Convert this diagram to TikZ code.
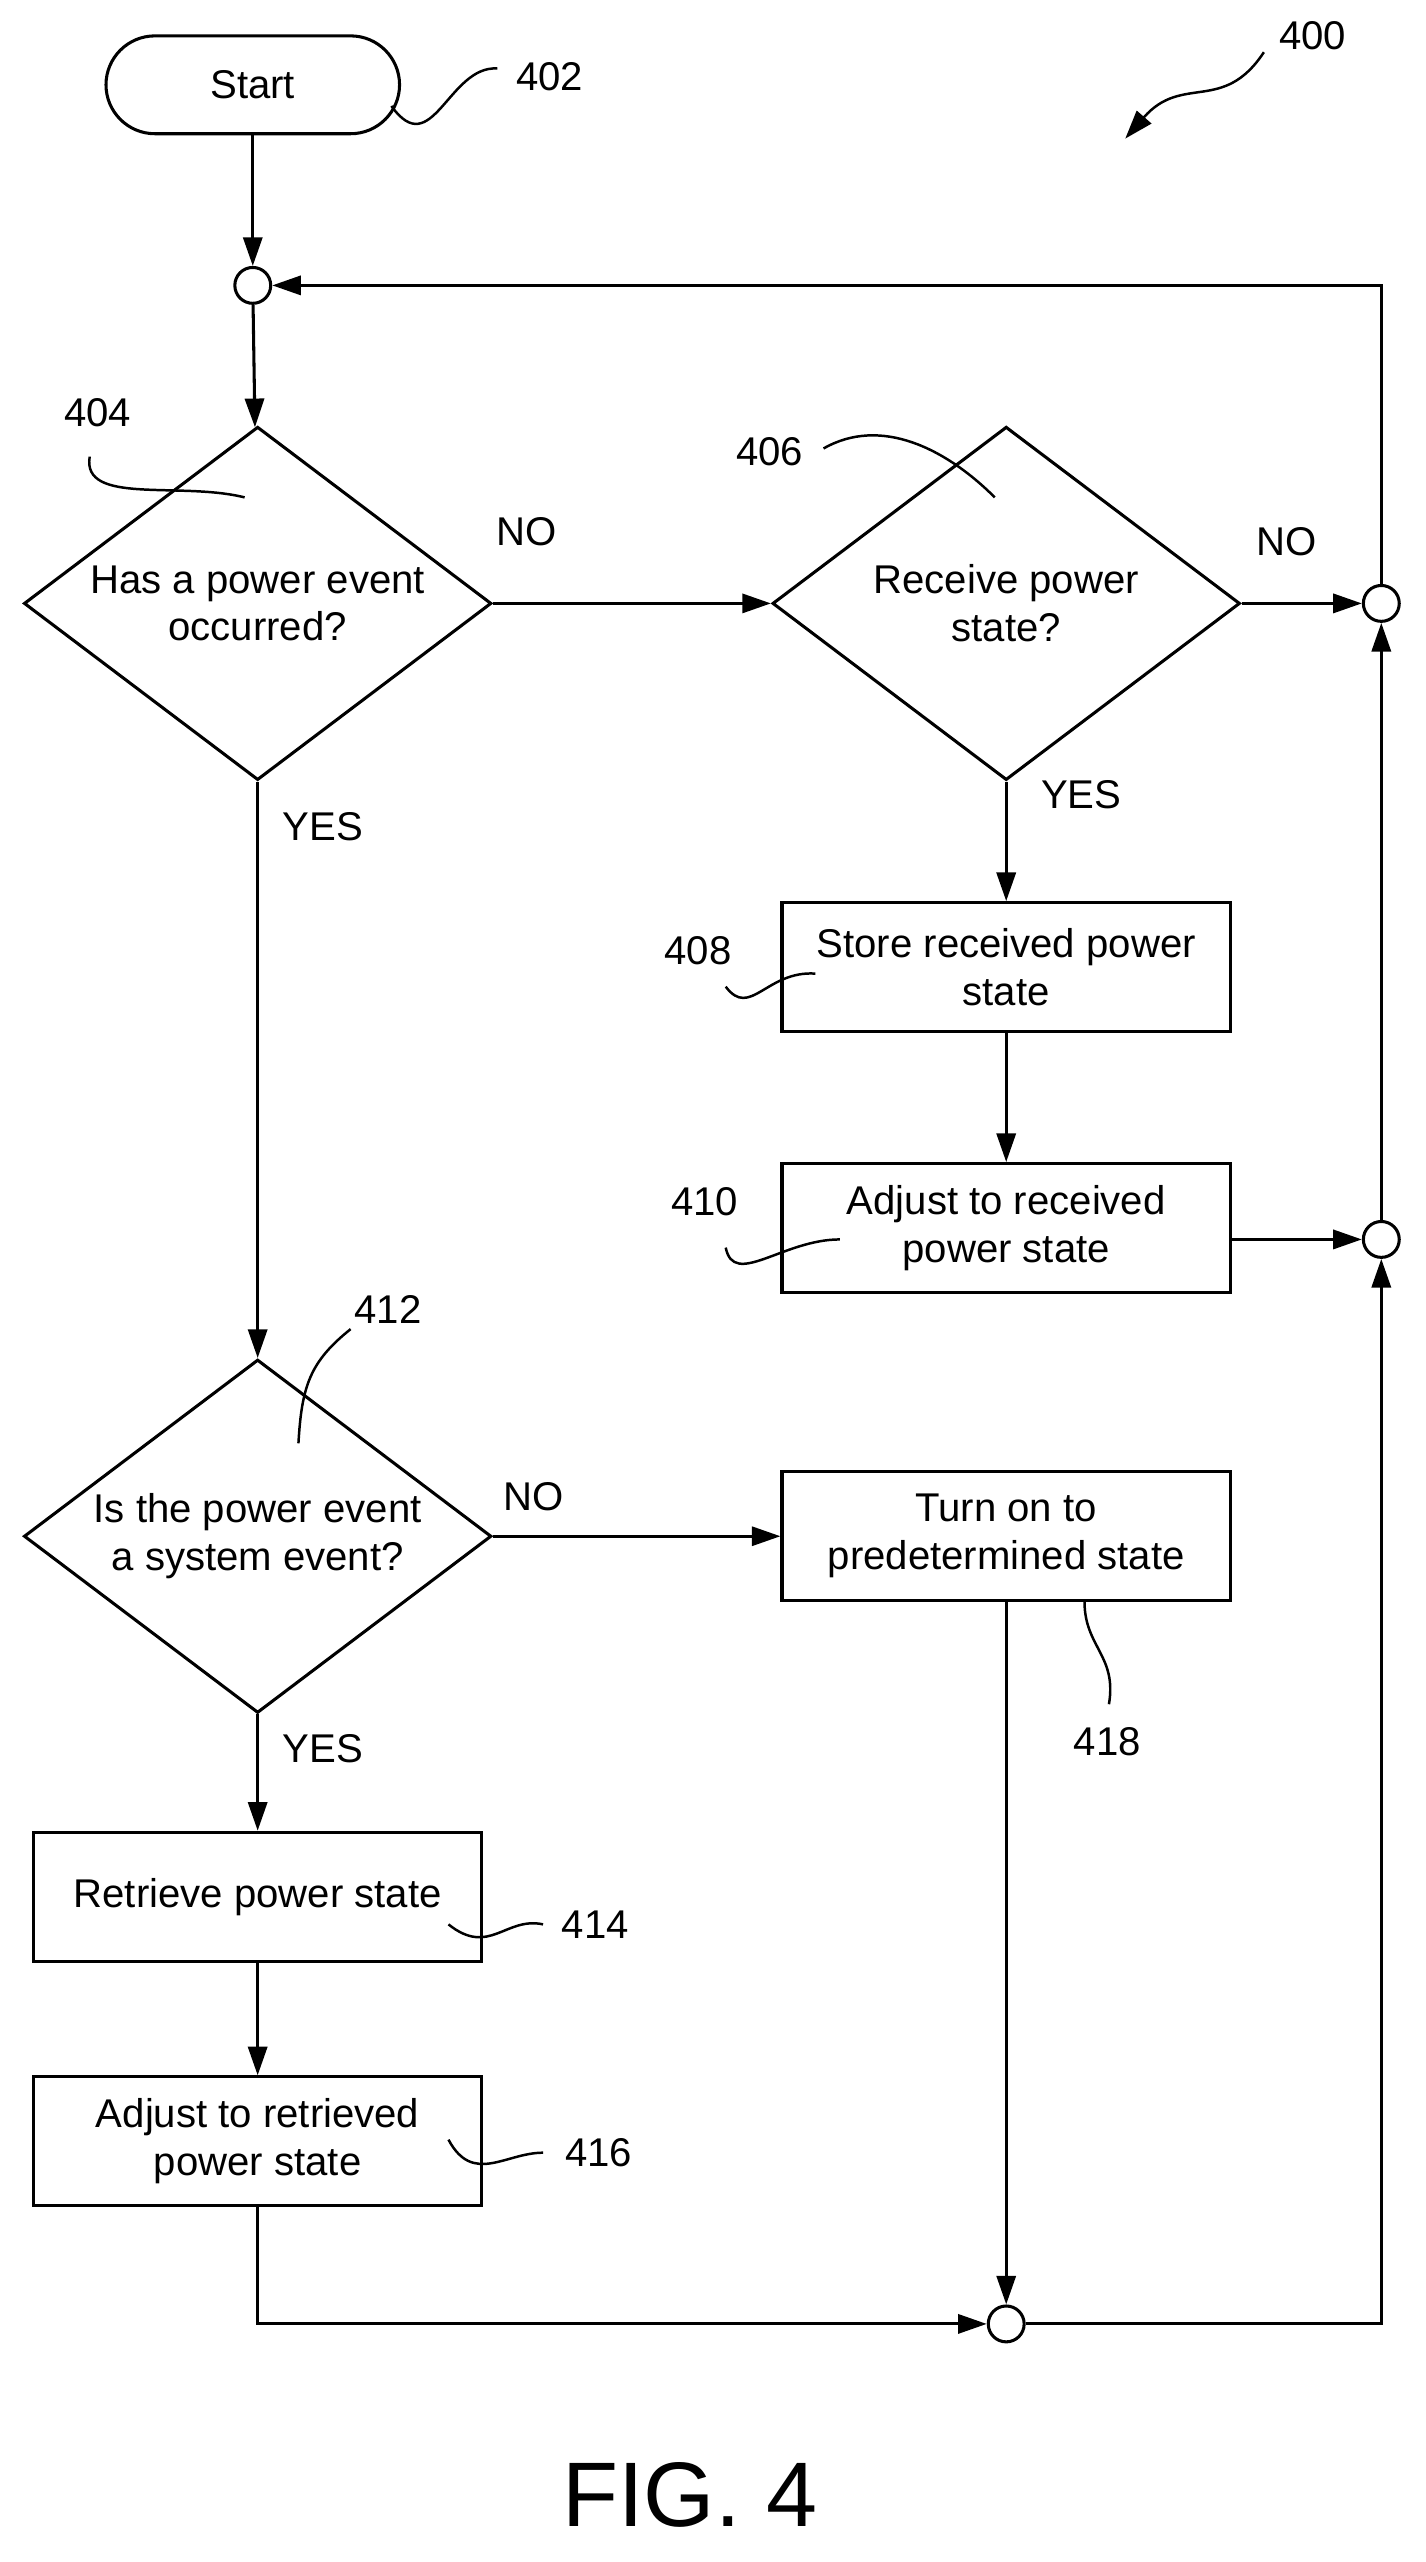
\documentclass[tikz,border=0pt]{standalone}
\usepackage{fontspec}
\setmainfont{Liberation Sans}
\usetikzlibrary{arrows.meta}
\usetikzlibrary{shapes.geometric}
\begin{document}
\begin{tikzpicture}[x=0.03cm,y=-0.03cm,line width=1.6pt,>={Triangle[length=15pt,width=10pt]},
	font=\fontsize{21}{25}\selectfont,
	box/.style = {draw, minimum width=8.25cm, minimum height=2.37cm, align=center},
	dec/.style = {draw, diamond, aspect=1.33, minimum width=8.6cm, minimum height=6.5cm, inner sep=0pt, align=center},
	jn/.style = {draw, circle, minimum size=0.66cm, inner sep=0pt},
	squig/.style = {line width=1.3pt}]
	\useasboundingbox (0,0) rectangle (874,1571);
	\node[draw,rounded corners=0.9cm,minimum width=5.4cm,minimum height=1.8cm] (start) at (155,52) {Start};
	\node[jn] (j1) at (155,175) {};
	\node[dec] (d404) at (158,370) {Has a power event\\occurred?};
	\node[dec] (d406) at (617,370) {Receive power\\state?};
	\node[jn] (j2) at (847,370) {};
	\node[box] (b408) at (617,593) {Store received power\\state};
	\node[box] (b410) at (617,753) {Adjust to received\\power state};
	\node[jn] (j3) at (847,760) {};
	\node[dec] (d412) at (158,942) {Is the power event\\a system event?};
	\node[box] (b418) at (617,942) {Turn on to\\predetermined state};
	\node[box] (b414) at (158,1163) {Retrieve power state};
	\node[box] (b416) at (158,1313) {Adjust to retrieved\\power state};
	\node[jn] (j4) at (617,1425) {};
	% numbers
	\node (n400) at (805,22) {400};
	\node (n402) at (337,47) {402};
	\node (n404) at (60,253) {404};
	\node (n406) at (472,277) {406};
	\node (n408) at (428,583) {408};
	\node (n410) at (432,737) {410};
	\node (n412) at (238,803) {412};
	\node (n414) at (365,1180) {414};
	\node (n416) at (367,1320) {416};
	\node (n418) at (679,1068) {418};
	\node[font=\fontsize{48}{52}\selectfont] (fig) at (423,1530) {FIG. 4};
	% branch labels
	\node (no1) at (323,326) {NO};
	\node (no2) at (789,332) {NO};
	\node (no3) at (327,918) {NO};
	\node (yes1) at (198,507) {YES};
	\node (yes2) at (663,487) {YES};
	\node (yes3) at (198,1072) {YES};
	% flow
	\draw[->] (start) -- (j1);
	\draw[->] (j1) -- (d404);
	\draw[->] (d404) -- (d406);
	\draw[->] (d406) -- (j2);
	\draw[->] (j2) |- (j1);
	\draw[->] (d406) -- (b408);
	\draw[->] (b408) -- (b410);
	\draw[->] (b410.east |- j3) -- (j3);
	\draw[->] (j3) -- (j2);
	\draw[->] (d404) -- (d412);
	\draw[->] (d412) -- (b418);
	\draw[->] (d412) -- (b414);
	\draw[->] (b414) -- (b416);
	\draw[->] (b416) |- (j4);
	\draw[->] (b418) -- (j4);
	\draw[->] (j4) -| (j3);
	% leader squiggles
	\draw[squig] (240,65) .. controls (265,100) and (275,40) .. (305,42);
	\draw[squig,->] (775,32) .. controls (750,70) and (725,45) .. (690,85);
	\draw[squig] (55,280) .. controls (50,310) and (110,295) .. (150,305);
	\draw[squig] (505,275) .. controls (540,255) and (580,275) .. (610,305);
	\draw[squig] (445,605) .. controls (460,625) and (470,595) .. (500,597);
	\draw[squig] (445,765) .. controls (450,790) and (480,760) .. (515,760);
	\draw[squig] (215,815) .. controls (190,835) and (185,850) .. (183,885);
	\draw[squig] (665,982) .. controls (665,1010) and (685,1015) .. (680,1045);
	\draw[squig] (275,1180) .. controls (300,1200) and (310,1175) .. (333,1180);
	\draw[squig] (275,1312) .. controls (290,1340) and (310,1320) .. (333,1320);
\end{tikzpicture}
\end{document}
